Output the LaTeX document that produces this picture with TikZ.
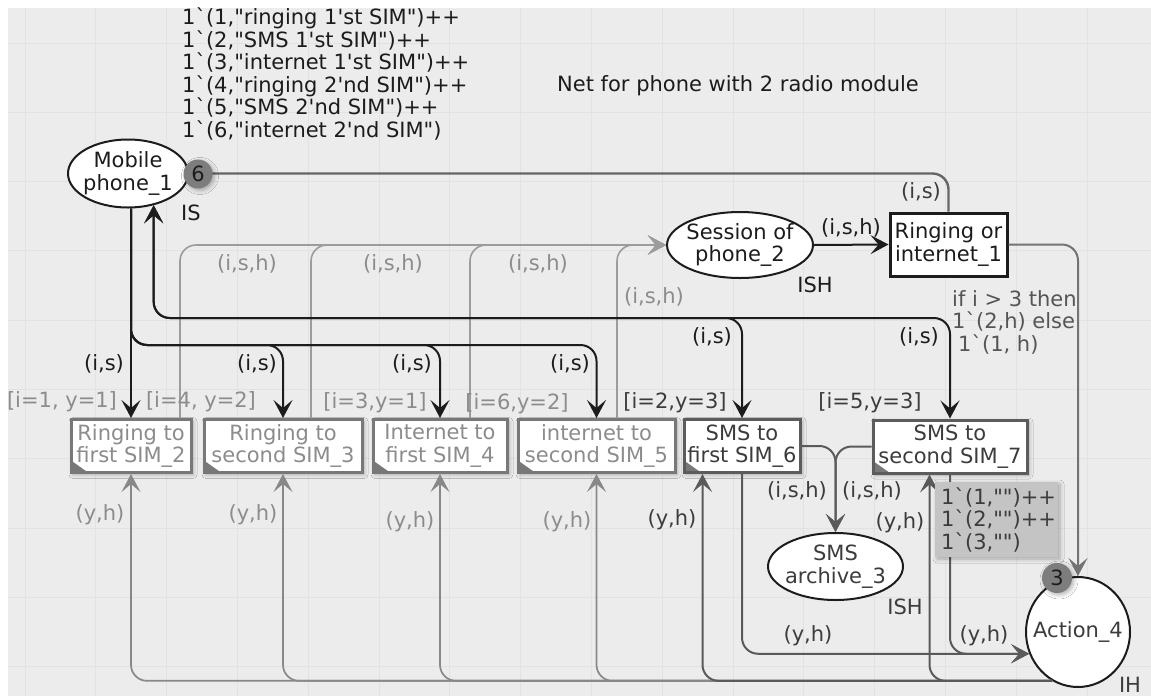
\documentclass[tikz,border=0pt]{standalone}
\usepackage{fontspec}
\setmainfont{DejaVu Sans}[Ligatures=TeXOff]
\usetikzlibrary{arrows.meta,shapes.geometric,shadows.blur,calc}

\definecolor{canvas}{HTML}{ECECEC}
\definecolor{gridc}{HTML}{E2E2E2}
\definecolor{ink}{HTML}{1C1C1C}
\definecolor{darkink}{HTML}{3C3C3C}
\definecolor{softink}{HTML}{555555}
\definecolor{paleink}{HTML}{8C8C8C}
\definecolor{palearc}{HTML}{9C9C9C}
\definecolor{grayarc}{HTML}{888888}
\definecolor{darkarc}{HTML}{5A5A5A}
\definecolor{toparc}{HTML}{666666}
\definecolor{tokenfill}{HTML}{7D7D7D}
\definecolor{markfill}{HTML}{C4C4C4}
\definecolor{paleframe}{HTML}{787878}
\definecolor{darkframe}{HTML}{5C5C5C}

\tikzset{
  every node/.style={font=\fontsize{21}{22.5}\selectfont, inner sep=0pt},
  softshadow/.style={blur shadow={shadow xshift=2pt, shadow yshift=-2pt, shadow blur radius=4pt, shadow opacity=30}},
  head/.style={-{Stealth[length=18pt,width=19pt,inset=8pt]}},
  heads/.style={{Stealth[length=18pt,width=19pt,inset=8pt]}-{Stealth[length=18pt,width=19pt,inset=8pt]}},
  place/.style={ellipse, draw=ink, line width=2pt, fill=white},
  trans/.style={rectangle, fill=white, line width=3pt, minimum height=53pt, align=center, softshadow,
    path picture={\fill[paleframe] (path picture bounding box.south west) -- ++(0pt,12pt) -- ++(17pt,-12pt) -- cycle;}},
  palet/.style={trans, draw=paleframe, text=paleink},
  darkt/.style={trans, draw=darkframe, text=darkink},
  arcline/.style={line width=2pt, rounded corners=16pt, line join=round},
  blackarc/.style={arcline, draw=ink},
  sessarc/.style={arcline, draw=palearc, line width=1.6pt},
  backarc/.style={arcline, draw=grayarc, line width=1.7pt},
  sharparc/.style={arcline, draw=darkarc},
  lbk/.style={text=ink},
  lgr/.style={text=paleink},
  ldk/.style={text=darkink},
  lsf/.style={text=softink},
  token/.style={circle, fill=tokenfill, text=ink, softshadow},
}

\begin{document}
\begin{tikzpicture}[x=1pt,y=-1pt]
\useasboundingbox (0,0) rectangle (1151,697);
% sheet and grid
\fill[white] (0,0) rectangle (1151,697);
\fill[canvas] (8,8) rectangle (1151,696);
\begin{scope}
  \clip (8,8) rectangle (1151,696);
  \foreach \i in {0,...,16} \draw[gridc, line width=1pt] ({25+70.8*\i},8) -- ({25+70.8*\i},696);
  \foreach \j in {0,...,9} \draw[gridc, line width=1pt] (8,{43+69.3*\j}) -- (1151,{43+69.3*\j});
\end{scope}

% declarations
\node[lbk, anchor=west, align=left] (init) at (182,74)
  {1`(1,"ringing 1'st SIM")++\\1`(2,"SMS 1'st SIM")++\\1`(3,"internet 1'st SIM")++\\1`(4,"ringing 2'nd SIM")++\\1`(5,"SMS 2'nd SIM")++\\1`(6,"internet 2'nd SIM")};
\node[lbk] (title) at (738,86) {Net for phone with 2 radio module};

% places
\node[place, minimum width=120pt, minimum height=68pt] (mp) at (128,173.5) {};
\node[lbk, align=center] (mptxt) at (mp) {Mobile\\phone\_1};
\node[place, minimum width=146pt, minimum height=66pt] (ses) at (740,245) {};
\node[lbk, align=center] (sestxt) at (ses) {Session of\\phone\_2};
\node[place, minimum width=135pt, minimum height=67pt] (arch) at (835.5,566.5) {};
\node[ldk, align=center] (archtxt) at (arch) {SMS\\archive\_3};
\node[place, minimum width=104pt, minimum height=110pt] (act) at (1078,632) {};
\node[ldk] (acttxt) at (act) {Action\_4};

% transitions
\node[rectangle, draw=ink, line width=3pt, fill=white, minimum width=117pt, minimum height=63pt, align=center, text=ink] (r1) at (948.5,244.5) {Ringing or\\internet\_1};
\node[palet, minimum width=120pt] (t2) at (131,446) {Ringing to\\first SIM\_2};
\node[palet, minimum width=158pt] (t3) at (283,446) {Ringing to\\second SIM\_3};
\node[palet, minimum width=134pt] (t4) at (440,446) {Internet to\\first SIM\_4};
\node[palet, minimum width=157pt] (t5) at (596.5,446) {internet to\\second SIM\_5};
\node[darkt, minimum width=116pt] (t6) at (742,446) {SMS to\\first SIM\_6};
\node[darkt, minimum width=154pt] (t7) at (950,446.5) {SMS to\\second SIM\_7};

% bus levels of the arcs leaving Mobile phone_1
\coordinate (busA) at (0,345);
\coordinate (busB) at (0,318);

% arcs into Session of phone_2
\draw[sessarc, head] ($(t2.north)+(49,0)$) |- (ses.west);
\draw[sessarc, head] ($(t3.north)+(28,0)$) |- (ses.west);
\draw[sessarc, head] ($(t4.north)+(30,0)$) |- (ses.west);
\draw[sessarc, head] ($(t5.north)+(20.5,0)$) |- (ses.west);

% arcs from Action_4 back to the transitions
\draw[backarc, head] (act.242) -| (t2.south);
\draw[backarc, head] (act.242) -| (t3.south);
\draw[backarc, head] (act.242) -| (t4.south);
\draw[backarc, head] (act.242) -| (t5.south);
\draw[sharparc, head] (act.242) -| ($(t6.south west)+(20,0)$);
\draw[sharparc, head] (act.242) -| ($(t7.south west)+(58,0)$);

% arcs from the SMS transitions
\draw[sharparc, head] (t6.south) |- (act.204);
\draw[sharparc, head] (t7.south) |- (act.204);
\draw[sharparc, head] (t6.east) -| (arch.north);
\draw[sharparc, head] (t7.west) -| (arch.north);

% arcs of Mobile phone_1
\draw[blackarc, head] (t2.north |- mp.south) -- (t2.north);
\draw[blackarc, head] (t2.north |- mp.south) |- (t3.north |- busA) -- (t3.north);
\draw[blackarc, head] (t2.north |- mp.south) |- (t4.north |- busA) -- (t4.north);
\draw[blackarc, head] (t2.north |- mp.south) |- (t5.north |- busA) -- (t5.north);
\draw[blackarc, heads] (mp.-51) |- (t6.north |- busB) -- (t6.north);
\draw[blackarc, heads] (mp.-51) |- (t7.north |- busB) -- (t7.north);

% session and selection arcs
\draw[blackarc, head] (ses.east) -- (r1.west);
\draw[arcline, draw=toparc, line width=2.4pt, head] (r1.north) |- (mp.east);
\draw[arcline, draw=darkarc!85, head] (r1.east) -| (act.north);

% initial marking of Action_4 and tokens
\node[rectangle, fill=markfill, minimum width=123pt, minimum height=75pt, softshadow] (mark) at (996.5,519.5) {};
\node[ldk, anchor=west, align=left] (marktxt) at (941,519.5) {1`(1,"")++\\1`(2,"")++\\1`(3,"")};
\node[token, minimum size=29pt] (tok1) at (198,174) {6};
\node[token, minimum size=30pt] (tok2) at (1057,578) {3};

% colour sets
\node[lbk] (csmp) at (191,213) {IS};
\node[lbk] (csses) at (815,285) {ISH};
\node[ldk] (csarch) at (905,607) {ISH};
\node[ldk] (csact) at (1130,685) {IH};

% arc inscriptions
\node[ldk] (ins1) at (921,192) {(i,s)};
\node[lbk] (ins2) at (851,228) {(i,s,h)};
\node[lsf, anchor=west, align=left] (ins3) at (952,322) {if i > 3 then\\1`(2,h) else\\\hspace*{6pt}1`(1, h)};
\node[lgr] (ins4) at (247,264) {(i,s,h)};
\node[lgr] (ins5) at (393,264) {(i,s,h)};
\node[lgr] (ins6) at (538,264) {(i,s,h)};
\node[lgr] (ins7) at (654,297) {(i,s,h)};
\node[lbk] (ins8) at (104,364) {(i,s)};
\node[lbk] (ins9) at (257,364) {(i,s)};
\node[lbk] (ins10) at (412,364) {(i,s)};
\node[lbk] (ins11) at (570,364) {(i,s)};
\node[lbk] (ins12) at (712,337) {(i,s)};
\node[lbk] (ins13) at (919,337) {(i,s)};
\node[ldk] (ins14) at (797,491) {(i,s,h)};
\node[ldk] (ins15) at (872,491) {(i,s,h)};
\node[lgr] (ins16) at (100,515) {(y,h)};
\node[lgr] (ins17) at (253,515) {(y,h)};
\node[lgr] (ins18) at (410,522) {(y,h)};
\node[lgr] (ins19) at (567,522) {(y,h)};
\node[ldk] (ins20) at (672,520) {(y,h)};
\node[ldk] (ins21) at (900,523) {(y,h)};
\node[ldk] (ins22) at (808,636) {(y,h)};
\node[ldk] (ins23) at (984,636) {(y,h)};

% guards
\node[lgr] (g2) at (62,402) {[i=1, y=1]};
\node[lgr] (g3) at (201,402) {[i=4, y=2]};
\node[lgr] (g4) at (375,403) {[i=3,y=1]};
\node[lgr] (g5) at (517,404) {[i=6,y=2]};
\node[ldk] (g6) at (675,403) {[i=2,y=3]};
\node[ldk] (g7) at (870,403) {[i=5,y=3]};
\end{tikzpicture}
\end{document}
